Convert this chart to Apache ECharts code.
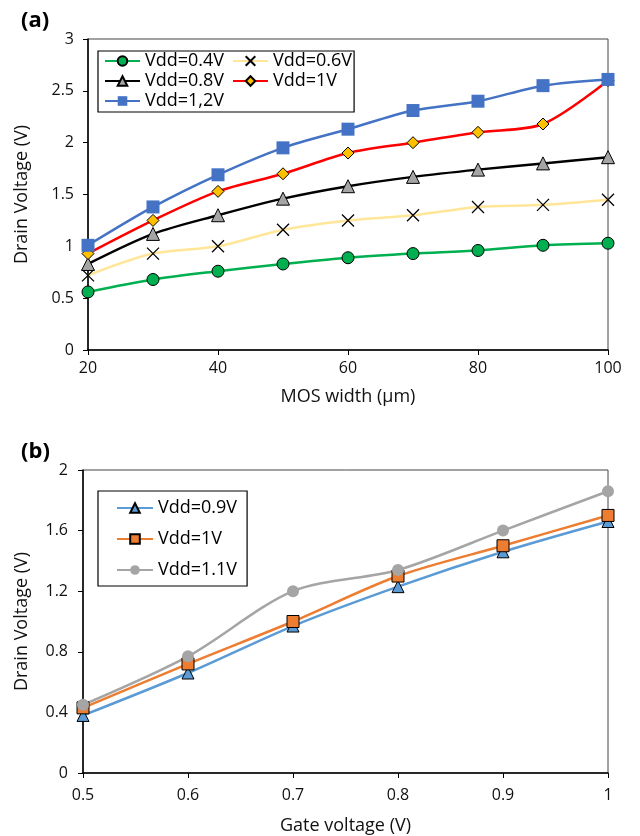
<!DOCTYPE html>
<html>
<head>
<meta charset="utf-8">
<script src="https://cdn.jsdelivr.net/npm/echarts@6/dist/echarts.min.js"></script>
<style>
html, body { margin: 0; padding: 0; background: #fff; }
#chart { width: 640px; height: 836px; }
</style>
</head>
<body>
<div id="chart"></div>
<script>
// (a) MOS width sweep
const mosWidth = [20, 30, 40, 50, 60, 70, 80, 90, 100]
const vdd04 = [0.56, 0.68, 0.76, 0.83, 0.89, 0.93, 0.96, 1.01, 1.03]
const vdd06 = [0.72, 0.93, 1.0, 1.16, 1.25, 1.3, 1.38, 1.4, 1.45]
const vdd08 = [0.83, 1.12, 1.3, 1.46, 1.58, 1.67, 1.74, 1.8, 1.86]
const vdd10 = [0.93, 1.25, 1.53, 1.7, 1.9, 2.0, 2.1, 2.18, 2.6]
const vdd12 = [1.01, 1.38, 1.69, 1.95, 2.13, 2.31, 2.4, 2.55, 2.61]

// (b) gate voltage sweep
const gateV = [0.5, 0.6, 0.7, 0.8, 0.9, 1.0]
const vdd09b = [0.38, 0.66, 0.97, 1.23, 1.46, 1.66]
const vdd10b = [0.43, 0.72, 1.0, 1.3, 1.5, 1.7]
const vdd11b = [0.45, 0.77, 1.2, 1.34, 1.6, 1.86]

const font = 'Open Sans'
const pairs = (xs, ys) => xs.map((x, i) => [x, ys[i]])
const cross = 'path://M0,0L10,10M10,0L0,10'

function line (name, xs, ys, idx, color, symbol, fill, size, border) {
  return {
    name: name,
    type: 'line',
    xAxisIndex: idx,
    yAxisIndex: idx,
    smooth: 0.3,
    data: pairs(xs, ys),
    symbol: symbol,
    symbolSize: size,
    lineStyle: { color: color, width: 2.5 },
    itemStyle: { color: fill, borderColor: border ? '#000' : fill, borderWidth: border ? 1 : 0 },
    emphasis: { disabled: true }
  }
}

const axisLine = { show: true, lineStyle: { color: '#000', width: 1.5 } }
const axisTick = { show: true, length: 5, lineStyle: { color: '#000' } }
const tickFont = { color: '#111', fontSize: 16, fontFamily: font }
const nameStyle = { color: '#111', fontSize: 18, fontFamily: font }
const titleStyle = { fontSize: 22, fontWeight: 'bold', fontFamily: font, color: '#000' }

const chart = echarts.init(document.getElementById('chart'))
chart.setOption({
  animation: false,
  title: [
    { text: '(a)', left: 16, top: 5, textStyle: titleStyle },
    { text: '(b)', left: 16, top: 436, textStyle: titleStyle }
  ],
  grid: [
    { left: 88, right: 32, top: 39, height: 311, show: true, borderColor: '#444', borderWidth: 1 },
    { left: 83, right: 32, top: 470, height: 303, show: true, borderColor: '#444', borderWidth: 1 }
  ],
  legend: [
    {
      data: [
        { name: 'Vdd=0.4V', textStyle: { width: 85 } },
        { name: 'Vdd=0.6V', textStyle: { width: 76 } },
        { name: 'Vdd=0.8V', textStyle: { width: 85 } },
        { name: 'Vdd=1V', textStyle: { width: 76 } },
        { name: 'Vdd=1,2V', textStyle: { width: 85 } }
      ],
      left: 98, top: 51, width: 250,
      orient: 'horizontal',
      itemWidth: 35, itemHeight: 12, itemGap: 2,
      padding: [1, 2, 2, 6],
      borderColor: '#000', borderWidth: 1.2,
      textStyle: { fontSize: 18, lineHeight: 17, fontFamily: font, color: '#000' }
    },
    {
      data: ['Vdd=0.9V', 'Vdd=1V ', 'Vdd=1.1V'],
      left: 98, top: 491,
      orient: 'vertical',
      itemWidth: 36, itemHeight: 12, itemGap: 13,
      padding: [8, 10, 7, 18],
      borderColor: '#000', borderWidth: 1.2,
      textStyle: { fontSize: 18, lineHeight: 18, fontFamily: font, color: '#000' }
    }
  ],
  xAxis: [
    {
      type: 'value', gridIndex: 0, min: 20, max: 100, interval: 20,
      name: 'MOS width (µm)', nameLocation: 'middle', nameGap: 38, nameTextStyle: nameStyle,
      axisLine: axisLine, axisTick: axisTick,
      axisLabel: Object.assign({ margin: 10 }, tickFont), splitLine: { show: false }
    },
    {
      type: 'value', gridIndex: 1, min: 0.5, max: 1, interval: 0.1,
      name: 'Gate voltage (V)', nameLocation: 'middle', nameGap: 44, nameTextStyle: nameStyle,
      axisLine: axisLine, axisTick: axisTick,
      axisLabel: Object.assign({ margin: 14 }, tickFont), splitLine: { show: false }
    }
  ],
  yAxis: [
    {
      type: 'value', gridIndex: 0, min: 0, max: 3, interval: 0.5,
      name: 'Drain Voltage (V)', nameLocation: 'middle', nameGap: 57, nameTextStyle: nameStyle,
      axisLine: axisLine, axisTick: axisTick,
      axisLabel: Object.assign({ margin: 14 }, tickFont), splitLine: { show: false }
    },
    {
      type: 'value', gridIndex: 1, min: 0, max: 2, interval: 0.4,
      name: 'Drain Voltage (V)', nameLocation: 'middle', nameGap: 52, nameTextStyle: nameStyle,
      axisLine: axisLine, axisTick: axisTick,
      axisLabel: Object.assign({ margin: 15 }, tickFont), splitLine: { show: false }
    }
  ],
  series: [
    line('Vdd=0.4V', mosWidth, vdd04, 0, '#00b050', 'circle', '#00b050', 12, true),
    line('Vdd=0.6V', mosWidth, vdd06, 0, '#ffe699', cross, '#000', 12, false),
    line('Vdd=0.8V', mosWidth, vdd08, 0, '#000000', 'triangle', '#a5a5a5', 13, true),
    line('Vdd=1V', mosWidth, vdd10, 0, '#ff0000', 'diamond', '#ffc000', 12, true),
    line('Vdd=1,2V', mosWidth, vdd12, 0, '#4472c4', 'rect', '#4472c4', 13, false),
    line('Vdd=0.9V', gateV, vdd09b, 1, '#5b9bd5', 'triangle', '#5b9bd5', 12, true),
    line('Vdd=1V ', gateV, vdd10b, 1, '#ed7d31', 'rect', '#ed7d31', 12, true),
    line('Vdd=1.1V', gateV, vdd11b, 1, '#a5a5a5', 'circle', '#a5a5a5', 12, false)
  ]
})
// cross symbol: draw as stroke
chart.setOption({
  series: [{}, { itemStyle: { color: 'none', borderColor: '#000', borderWidth: 1.3 } }]
})
</script>
</body>
</html>
